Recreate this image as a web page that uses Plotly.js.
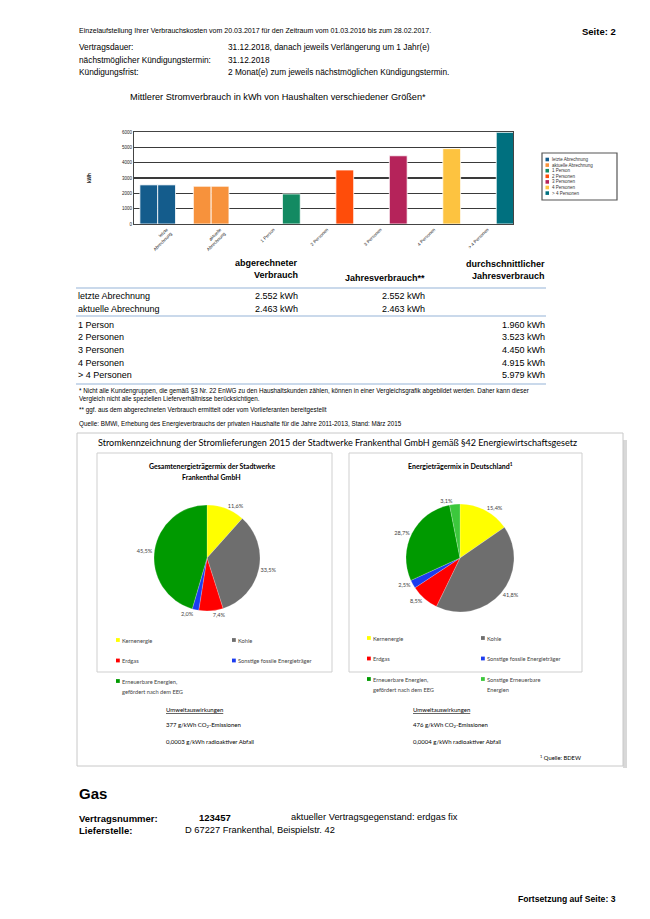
<!DOCTYPE html>
<html><head><meta charset="utf-8">
<script src="https://cdn.plot.ly/plotly-3.0.1.min.js"></script>
<style>html,body{margin:0;padding:0;background:#fff}#page{width:650px;height:919px}</style>
</head><body><div id="page"></div>
<script>
// ---------- data ----------
const categories = ['letzte Abrechnung','aktuelle Abrechnung','1 Person','2 Personen','3 Personen','4 Personen','> 4 Personen'];
const tickLabels = ['letzte<br>Abrechnung','aktuelle<br>Abrechnung','1 Person','2 Personen','3 Personen','4 Personen','> 4 Personen'];
const abgerechnet = [2552, 2463, null, null, null, null, null];
const jahresverbrauch = [2552, 2463, null, null, null, null, null];
const durchschnitt = [null, null, 1960, 3523, 4450, 4915, 5979];
const catColors = ['#145C8C','#F7923C','#138A62','#FF4D0A','#B5235A','#FDC340','#00707F'];
const yTicks = [0,1000,2000,3000,4000,5000,6000];

const mixLabelsSWF = ['Kernenergie','Kohle','Erdgas','Sonstige fossile Energieträger','Erneuerbare Energien, gefördert nach dem EEG'];
const mixValuesSWF = [11.6, 33.5, 7.4, 2.0, 45.5];
const mixLabelsDE = ['Kernenergie','Kohle','Erdgas','Sonstige fossile Energieträger','Erneuerbare Energien, gefördert nach dem EEG','Sonstige Erneuerbare Energien'];
const mixValuesDE = [15.4, 41.8, 8.5, 2.5, 28.7, 3.1];
const mixColors = ['#FFFF00','#6E6E6E','#FF0000','#1C3CF0','#009A00','#3CC83C'];

// ---------- helpers ----------
const W = 650, H = 919;
const X = p => p / W, Y = p => 1 - p / H;
const ARIAL = 'Liberation Sans, Arial, sans-serif';
const CAL = 'Lato, Open Sans, sans-serif';
const fmt = n => String(n).replace(/\B(?=(\d{3})+(?!\d))/g, '.') + ' kWh';
const ann = [];
const shapes = [];
function T(text, x, y, size, o = {}) {
  ann.push({text, x: X(x), y: Y(y), xref: 'paper', yref: 'paper', showarrow: false,
    xanchor: o.anchor || 'left', yanchor: 'middle', align: o.align || (o.anchor === 'right' ? 'right' : (o.anchor === 'center' ? 'center' : 'left')),
    borderpad: 0, textangle: o.angle || 0,
    font: {size, family: o.family || ARIAL, color: o.color || '#000', weight: o.bold ? 'bold' : 'normal'}});
}
// multi-line text as separate single-line annotations
function TM(lines, x, y, size, lh, o = {}) { lines.forEach((t, i) => T(t, x, y + i * lh, size, o)); }
function R(x0, y0, x1, y1, line, fill, lw) {
  shapes.push({type: 'rect', xref: 'paper', yref: 'paper', x0: X(x0), x1: X(x1), y0: Y(y1), y1: Y(y0),
    line: {color: line || 'rgba(0,0,0,0)', width: lw === undefined ? 1 : lw}, fillcolor: fill || 'rgba(0,0,0,0)', layer: 'below'});
}
function L(x0, y0, x1, y1, color, w) {
  shapes.push({type: 'line', xref: 'paper', yref: 'paper', x0: X(x0), x1: X(x1), y0: Y(y0), y1: Y(y1), line: {color, width: w}});
}

// ---------- header ----------
T('Einzelaufstellung Ihrer Verbrauchskosten vom 20.03.2017 für den Zeitraum vom 01.03.2016 bis zum 28.02.2017.', 78, 31, 7.05);
T('Seite: 2', 617, 32, 9.5, {anchor: 'right', bold: true});
const infoLabels = ['Vertragsdauer:', 'nächstmöglicher Kündigungstermin:', 'Kündigungsfrist:'];
const infoValues = ['31.12.2018, danach jeweils Verlängerung um 1 Jahr(e)', '31.12.2018', '2 Monat(e) zum jeweils nächstmöglichen Kündigungstermin.'];
infoLabels.forEach((t, i) => { T(t, 78, 47 + i * 12.5, 8.3); T(infoValues[i], 227, 47 + i * 12.5, 8.3); });
T('Mittlerer Stromverbrauch in kWh von Haushalten verschiedener Größen*', 278, 97, 9.2, {anchor: 'center'});

// bar legend
R(542, 153, 617, 200, '#555', '#fff', 1.2);
categories.forEach((c, i) => {
  const yy = 159.5 + i * 5.6;
  R(545.5, yy - 1.8, 549, yy + 1.8, null, catColors[i], 0);
  T(c, 551, yy, 4.5, {color: '#333'});
});

// ---------- table ----------
TM(['abgerechneter', 'Verbrauch'], 299, 263, 9, 12.5, {anchor: 'right', bold: true});
T('Jahresverbrauch**', 426, 278, 9, {anchor: 'right', bold: true});
TM(['durchschnittlicher', 'Jahresverbrauch'], 546, 264, 9, 12.5, {anchor: 'right', bold: true});
L(76, 288, 546, 288, '#B8CCE4', 1.5);
const billRows = ['letzte Abrechnung', 'aktuelle Abrechnung'];
billRows.forEach((t, i) => {
  const yy = 296 + i * 12.5;
  T(t, 77, yy, 9);
  T(fmt(abgerechnet[i]), 299, yy, 9, {anchor: 'right'});
  T(fmt(jahresverbrauch[i]), 426, yy, 9, {anchor: 'right'});
});
L(76, 316, 546, 316, '#B8CCE4', 1.5);
categories.slice(2).forEach((t, i) => {
  const yy = 325 + i * 12.5;
  T(t, 77, yy, 9);
  T(fmt(durchschnitt[i + 2]), 546, yy, 9, {anchor: 'right'});
});
L(76, 384, 546, 384, '#B8CCE4', 1.5);

// footnotes
T('* Nicht alle Kundengruppen, die gemäß §3 Nr. 22 EnWG zu den Haushaltskunden zählen, können in einer Vergleichsgrafik abgebildet werden. Daher kann dieser', 78, 391, 6.3);
T('Vergleich nicht alle speziellen Lieferverhältnisse berücksichtigen.', 78, 399.5, 6.3);
T('** ggf. aus dem abgerechneten Verbrauch ermittelt oder vom Vorlieferanten bereitgestellt', 78, 410, 6.3);
T('Quelle: BMWi, Erhebung des Energieverbrauchs der privaten Haushalte für die Jahre 2011-2013, Stand: März 2015', 78, 424, 6.3);

// ---------- Stromkennzeichnung box ----------
R(623, 440, 627, 768, null, '#D8D8D8', 0);
R(77, 433, 623, 766, '#C8C8C8', '#fff', 1);
R(97, 453, 332, 672, '#CFCFCF', '#fff', 1);
R(349, 453, 582, 672, '#CFCFCF', '#fff', 1);
T('Stromkennzeichnung der Stromlieferungen 2015 der Stadtwerke Frankenthal GmbH gemäß §42 Energiewirtschaftsgesetz', 97, 442, 9.05, {family: CAL});
TM(['Gesamtenergieträgermix der Stadtwerke', 'Frankenthal GmbH'], 212, 466, 7, 11, {anchor: 'center', bold: true, family: CAL});
T('Energieträgermix in Deutschland<sup>1</sup>', 460, 466, 7, {anchor: 'center', bold: true, family: CAL});

function pieLegend(labels, x0, x1, y0) {
  labels.forEach((t, i) => {
    const xx = i % 2 === 0 ? x0 : x1;
    const row = Math.floor(i / 2);
    const yy = y0 + row * 20.5;
    const lines = t === 'Sonstige Erneuerbare Energien' ? ['Sonstige Erneuerbare', 'Energien'] : t.split(', ').map((s, k, a) => k < a.length - 1 ? s + ',' : s);
    R(xx, yy - 1.9, xx + 3.8, yy + 1.9, null, mixColors[i], 0);
    TM(lines, xx + 4.8, yy, 5.7, 10, {family: CAL, color: '#444'});
  });
}
pieLegend(mixLabelsSWF, 116, 232, 640);
pieLegend(mixLabelsDE, 367, 481, 638);

T('<u>Umweltauswirkungen</u>', 165, 709, 6, {family: CAL});
T('377 g/kWh CO<sub>2</sub>-Emissionen', 165, 725, 6, {family: CAL});
T('0,0003 g/kWh radioaktiver Abfall', 165, 741, 6, {family: CAL});
T('<u>Umweltauswirkungen</u>', 412, 709, 6, {family: CAL});
T('476 g/kWh CO<sub>2</sub>-Emissionen', 412, 725, 6, {family: CAL});
T('0,0004 g/kWh radioaktiver Abfall', 412, 741, 6, {family: CAL});
T('<sup>1</sup> Quelle: BDEW', 582, 757, 5.8, {family: CAL, anchor: 'right'});

// ---------- Gas ----------
T('Gas', 78, 793, 15, {bold: true});
T('Vertragsnummer:', 78, 818, 9.5, {bold: true});
T('123457', 198, 817, 9.5, {bold: true});
T('aktueller Vertragsgegenstand: erdgas fix', 290, 817, 9.3);
T('Lieferstelle:', 78, 830, 9.5, {bold: true});
T('D 67227 Frankenthal, Beispielstr. 42', 184, 830, 9.3);
T('Fortsetzung auf Seite: 3', 617, 899, 8.6, {anchor: 'right', bold: true});

// ---------- traces ----------
const barCommon = {type: 'bar', x: categories, marker: {color: catColors, line: {color: '#fff', width: 0.8}}, hoverinfo: 'y', xaxis: 'x', yaxis: 'y'};
const traces = [
  Object.assign({}, barCommon, {name: 'abgerechneter Verbrauch', y: abgerechnet}),
  Object.assign({}, barCommon, {name: 'Jahresverbrauch', y: jahresverbrauch}),
  Object.assign({}, barCommon, {name: 'durchschnittlicher Jahresverbrauch', y: durchschnitt}),
  {type: 'pie', labels: mixLabelsSWF, values: mixValuesSWF, sort: false, direction: 'clockwise', rotation: 0,
   marker: {colors: mixColors, line: {color: 'rgba(255,255,255,0.4)', width: 0.5}},
   textposition: 'outside', texttemplate: '%{value:.1f}%', textfont: {size: 5.6, family: CAL, color: '#444'},
   domain: {x: [X(154), X(260)], y: [Y(611), Y(505)]}, showlegend: false},
  {type: 'pie', labels: mixLabelsDE, values: mixValuesDE, sort: false, direction: 'clockwise', rotation: 0,
   marker: {colors: mixColors, line: {color: 'rgba(255,255,255,0.4)', width: 0.5}},
   textposition: 'outside', texttemplate: '%{value:.1f}%', textfont: {size: 5.6, family: CAL, color: '#444'},
   domain: {x: [X(406), X(514)], y: [Y(612), Y(504)]}, showlegend: false}
];

const layout = {
  width: W, height: H, margin: {l: 0, r: 0, t: 0, b: 0}, paper_bgcolor: '#fff', plot_bgcolor: '#fff',
  showlegend: false, separators: ',.', barmode: 'group', bargap: 0, bargroupgap: 0,
  font: {family: ARIAL},
  xaxis: {domain: [X(134), X(513)], anchor: 'y', type: 'category', range: [-0.61, 6.48],
    tickvals: categories, ticktext: tickLabels, tickangle: -45, tickfont: {size: 4.5, color: '#222'},
    showline: true, linecolor: '#444', linewidth: 1.2, mirror: true, showgrid: false, ticks: '', automargin: false, fixedrange: true},
  yaxis: {domain: [Y(224), Y(132)], anchor: 'x', range: [0, 6000], tickvals: yTicks, tickfont: {size: 4.5, color: '#222'},
    showline: true, linecolor: '#444', linewidth: 1.2, mirror: true, gridcolor: '#3a3a3a', gridwidth: 1.3, zeroline: false,
    ticks: '', automargin: false, fixedrange: true,
    title: {text: '<b>kWh</b>', font: {size: 4.8, color: '#222'}, standoff: 30}},
  annotations: ann, shapes: shapes
};
Plotly.newPlot('page', traces, layout, {displayModeBar: false, staticPlot: true});
</script></body></html>
